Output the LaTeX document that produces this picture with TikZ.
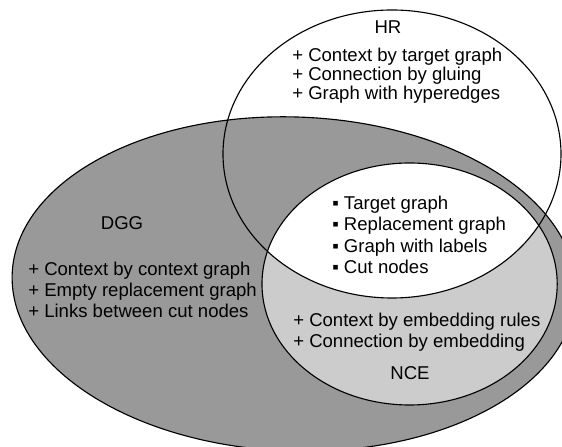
\documentclass[tikz,border=0pt]{standalone}
\usepackage{fontspec}
\setmainfont{Liberation Sans}
\definecolor{dggfill}{gray}{0.6}
\definecolor{ncefill}{gray}{0.8}

\begin{document}
\begin{tikzpicture}[
    txt/.style={font=\fontsize{13.2}{15.2}\selectfont, inner sep=0pt},
    lst/.style={txt, align=left, anchor=west},
    rim/.style={line width=0.8pt}]
			\useasboundingbox (0,0) rectangle (14.05,11.175);
			\clip (0,0) rectangle (14.05,11.175);
			% filled areas
			\fill[dggfill, rotate around={-2:(7.35,4.075)}] (7.35,4.075) ellipse (7.05 and 4.175);
			\fill[ncefill] (10.24,4.075) ellipse (3.69 and 3.025);
			\begin{scope}
				\clip (9.8,7.325) ellipse (4.225 and 3.6);
				\fill[white] (10.24,4.075) ellipse (3.69 and 3.025);
			\end{scope}
			% outlines
			\draw[rim, rotate around={-2:(7.35,4.075)}] (7.35,4.075) ellipse (7.05 and 4.175);
			\draw[rim] (9.8,7.325) ellipse (4.225 and 3.6);
			\draw[rim] (10.24,4.075) ellipse (3.69 and 3.025);
			% labels
			\node[txt] (hr) at (9.7,10.5) {HR};
			\node[lst, font=\fontsize{13.2}{13.6}\selectfont] (hrlist) at (7.3,9.275)
				{+ Context by target graph\\+ Connection by gluing\\+ Graph with hyperedges};
			\node[txt] (dgg) at (3.05,5.6) {DGG};
			\node[lst] (dgglist) at (0.7,3.925)
				{+ Context by context graph\\+ Empty replacement graph\\+ Links between cut nodes};
			\node[lst] (common) at (8.3,5.3)
				{▪ Target graph\\▪ Replacement graph\\▪ Graph with labels\\▪ Cut nodes};
			\node[lst] (ncelist) at (7.325,2.8625)
				{+ Context by embedding rules\\+ Connection by embedding};
			\node[txt] (nce) at (10.25,1.85) {NCE};
		\end{tikzpicture}
\end{document}
